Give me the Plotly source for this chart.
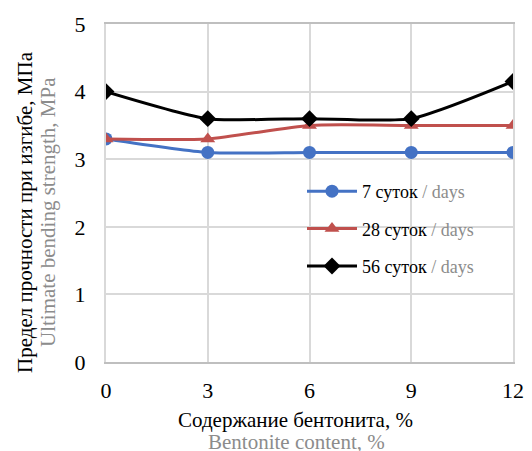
import plotly.graph_objects as go

x_vals = [0, 3, 6, 9, 12]
s7 = [3.3, 3.1, 3.1, 3.1, 3.1]
s28 = [3.3, 3.3, 3.5, 3.5, 3.5]
s56 = [4.0, 3.6, 3.6, 3.6, 4.15]
names = ["7 суток", "28 суток", "56 суток"]
colors = ["#4472C4", "#C0504D", "#000000"]
symbols = ["circle", "triangle-up", "diamond"]
x_ticks = [0, 3, 6, 9, 12]
y_ticks = [0, 1, 2, 3, 4, 5]

FONT = "Liberation Serif, Times New Roman, serif"
GREY = "#8c8c8c"

# page has an 8px body margin; figure placed at (8,8)
W, H = 524, 443
L, R, T, B = 98, 19, 16, 89
PW = W - L - R
PH = H - T - B

fig = go.Figure()
for i, (ys, nm) in enumerate(zip([s7, s28, s56], names)):
    fig.add_trace(go.Scatter(
        x=x_vals, y=ys, mode="lines+markers",
        name=f"{nm} <span style='color:{GREY}'>/ days</span>",
        legendgroup=str(i),
        line=dict(color=colors[i], width=3, shape="spline", smoothing=0.6),
        marker=dict(symbol=symbols[i], size=13, color=colors[i]),
    ))

fig.update_layout(
    width=W, height=H,
    margin=dict(l=L, r=R, t=T, b=B, autoexpand=False),
    paper_bgcolor="white", plot_bgcolor="white",
    font=dict(family=FONT, size=20, color="black"),
    showlegend=True,
    legend=dict(x=(294 - L) / PW, y=(354 - 165) / PH, xanchor="left", yanchor="top",
                bgcolor="rgba(0,0,0,0)", font=dict(size=18, family=FONT),
                tracegroupgap=11, itemwidth=50),
    xaxis=dict(range=[0, 12], tickvals=x_ticks, showgrid=True, gridcolor="#d9d9d9", gridwidth=2,
               zeroline=False, showline=True, linecolor="#bfbfbf", linewidth=2, mirror=True,
               automargin=False,
               ticks="", ticklabelstandoff=8, tickfont=dict(size=22)),
    yaxis=dict(range=[0, 5], tickvals=y_ticks, showgrid=True, gridcolor="#d9d9d9", gridwidth=2,
               zeroline=False, showline=True, linecolor="#d9d9d9", linewidth=2, mirror=True,
               automargin=False,
               ticks="", ticklabelstandoff=14, tickfont=dict(size=22)),
    annotations=[
        dict(xref="paper", yref="paper", x=(287 - L) / PW, y=(354 - 412) / PH, yanchor="middle",
             showarrow=False, text="Содержание бентонита, %", font=dict(size=21, color="black")),
        dict(xref="paper", yref="paper", x=(288 - L) / PW, y=(354 - 434) / PH, yanchor="middle",
             showarrow=False, text="Bentonite content, %", font=dict(size=21, color=GREY)),
        dict(xref="paper", yref="paper", x=(17 - L) / PW, y=(354 - 204) / PH, xanchor="center",
             yanchor="middle", showarrow=False, textangle=-90,
             text="Предел прочности при изгибе, МПа", font=dict(size=21, color="black")),
        dict(xref="paper", yref="paper", x=(40 - L) / PW, y=(354 - 204) / PH, xanchor="center",
             yanchor="middle", showarrow=False, textangle=-90,
             text="Ultimate bending strength, MPa", font=dict(size=21, color=GREY)),
    ],
)

fig.write_html("out.html")
